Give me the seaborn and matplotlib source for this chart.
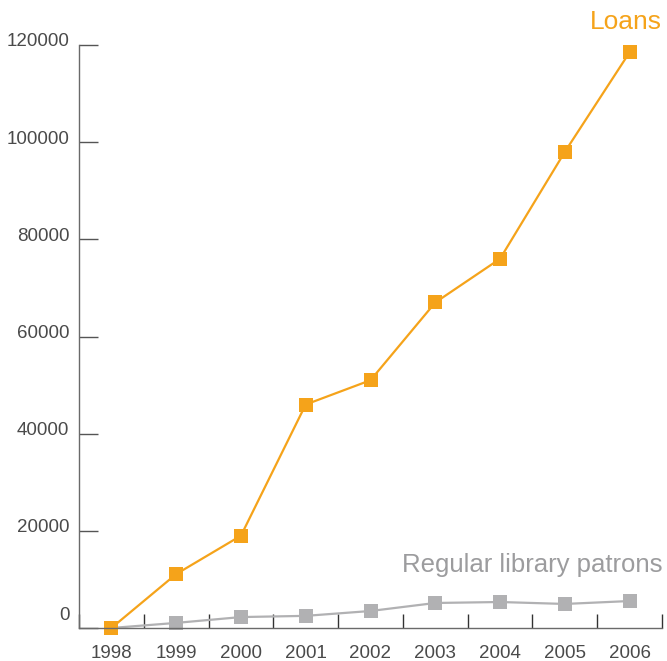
import matplotlib
matplotlib.use("Agg")
import matplotlib.pyplot as plt
import matplotlib.transforms as mtransforms
from matplotlib.ticker import MultipleLocator
import pandas as pd
import seaborn as sns

years = [1998, 1999, 2000, 2001, 2002, 2003, 2004, 2005, 2006]
loans = [0, 11100, 19000, 46000, 51000, 67000, 76000, 98000, 118500]
patrons = [0, 1050, 2250, 2500, 3500, 5150, 5350, 4950, 5550]
y_ticks = [0, 20000, 40000, 60000, 80000, 100000, 120000]

orange = "#F5A31A"
grey = "#B1B1B3"
text_col = "#4A4A4A"

sns.set_style("white")
plt.rcParams["font.family"] = ["Liberation Sans", "DejaVu Sans"]

df = pd.DataFrame({
    "year": years * 2,
    "value": patrons + loans,
    "series": ["Regular library patrons"] * len(years) + ["Loans"] * len(years),
})

fig = plt.figure(figsize=(6.67, 6.61), dpi=100)
ax = fig.add_axes([79 / 667, 33 / 661, (662 - 79) / 667, (628 - 45) / 661])

sns.lineplot(
    data=df, x="year", y="value", hue="series",
    hue_order=["Regular library patrons", "Loans"],
    palette=[grey, orange], style="series", markers=["s", "s"], dashes=False,
    markersize=10, markeredgewidth=0, linewidth=1.6, legend=False, ax=ax,
)
for line in ax.lines:
    line.set_clip_on(False)

ax.set_xlim(1997.5, 2006.5)
ax.set_ylim(0, 120000)
ax.set_xlabel("")
ax.set_ylabel("")

sns.despine(ax=ax, top=True, right=True)
for side in ["left", "bottom"]:
    ax.spines[side].set_color("#6A6A6A")
    ax.spines[side].set_linewidth(1.0)

ax.set_xticks(years)
ax.set_xticklabels([str(y) for y in years])
ax.xaxis.set_minor_locator(MultipleLocator(1, offset=0.5))
ax.tick_params(axis="x", which="major", bottom=True, length=0, pad=12,
               labelsize=13.5, labelcolor=text_col)
ax.tick_params(axis="x", which="minor", bottom=True, direction="in", length=10,
               width=1.0, color="#333333")

ax.set_yticks(y_ticks)
ax.set_yticklabels([str(v) for v in y_ticks])
ax.tick_params(axis="y", which="major", left=True, direction="in", length=14, width=1.0,
               color="#555555", pad=7, labelsize=13.5, labelcolor=text_col)
for lbl, v in zip(ax.get_yticklabels(), y_ticks):
    dy = 15 if v == 0 else 5
    lbl.set_transform(lbl.get_transform() + mtransforms.ScaledTranslation(0, dy / 100, fig.dpi_scale_trans))

ax.text(1.0, 1.0 + 23 / 583, "Loans", transform=ax.transAxes, ha="right", va="center",
        fontsize=19, color=orange)
ax.text(1.0, (628 - 565) / 583, "Regular library patrons", transform=ax.transAxes,
        ha="right", va="center", fontsize=18.5, color="#9C9C9E")

fig.savefig("out.png", dpi=100)
